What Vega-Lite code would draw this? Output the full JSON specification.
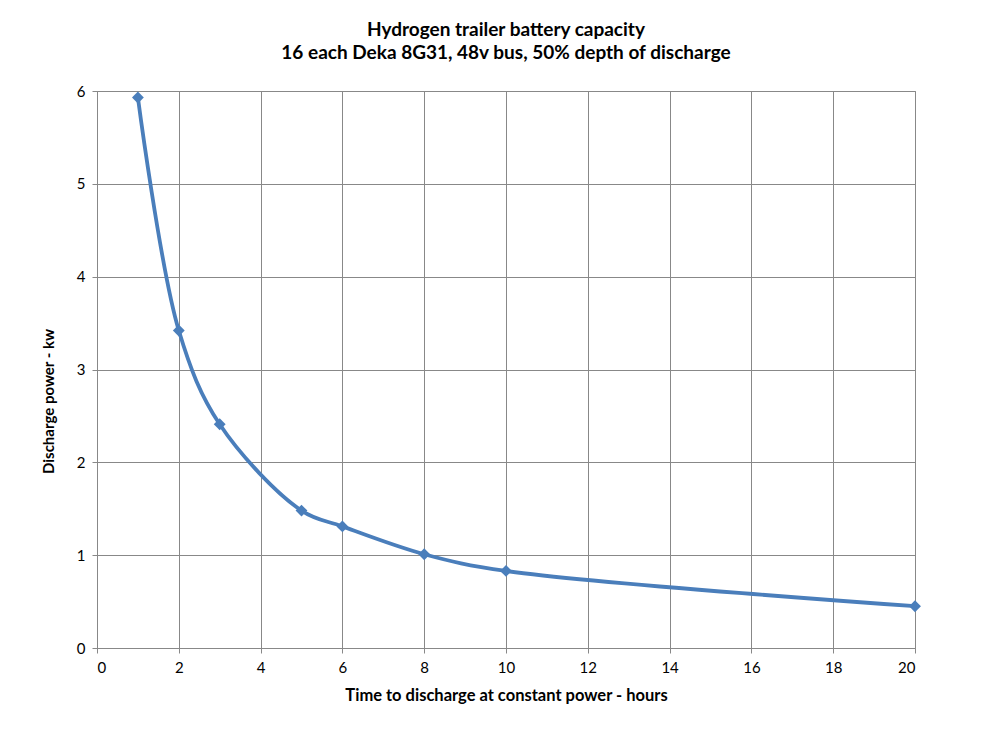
{
  "$schema": "https://vega.github.io/schema/vega-lite/v6.json",
  "autosize": {"type": "none"},
  "width": 818,
  "height": 557,
  "padding": {"left": 97, "top": 91, "right": 85, "bottom": 82},
  "background": "white",
  "title": {
    "text": ["Hydrogen trailer battery capacity", "16 each Deka 8G31, 48v bus, 50% depth of discharge"],
    "font": "Lato",
    "fontSize": 19,
    "fontWeight": "bold",
    "color": "#000000",
    "lineHeight": 23,
    "anchor": "middle",
    "offset": 21
  },
  "config": {
    "view": {"stroke": "#888888", "strokeWidth": 1},
    "axis": {
      "labelFont": "Lato",
      "labelFontSize": 15,
      "labelColor": "#000000",
      "titleFont": "Lato",
      "titleFontSize": 15,
      "titleFontWeight": "bold",
      "titleColor": "#000000",
      "gridColor": "#888888",
      "gridWidth": 1,
      "gridOpacity": 1,
      "domainColor": "#888888",
      "tickColor": "#888888",
      "tickSize": 5
    }
  },
  "data": {
    "values": [
      {"hours": 1, "kw": 5.93},
      {"hours": 2, "kw": 3.42},
      {"hours": 3, "kw": 2.41},
      {"hours": 5, "kw": 1.48},
      {"hours": 6, "kw": 1.31},
      {"hours": 8, "kw": 1.01},
      {"hours": 10, "kw": 0.83},
      {"hours": 20, "kw": 0.45}
    ]
  },
  "encoding": {
    "x": {
      "field": "hours",
      "type": "quantitative",
      "scale": {"domain": [0, 20], "nice": false},
      "axis": {"values": [0, 2, 4, 6, 8, 10, 12, 14, 16, 18, 20], "title": "Time to discharge at constant power - hours", "titleFontSize": 16.5, "labelPadding": 7, "titlePadding": 12}
    },
    "y": {
      "field": "kw",
      "type": "quantitative",
      "scale": {"domain": [0, 6], "nice": false},
      "axis": {"values": [0, 1, 2, 3, 4, 5, 6], "title": "Discharge power - kw", "titleY": 310, "labelPadding": 7, "titlePadding": 20}
    }
  },
  "layer": [
    {"mark": {"type": "line", "interpolate": "catmull-rom", "color": "#4a7ebb", "strokeWidth": 3.8}},
    {"mark": {"type": "point", "shape": "diamond", "filled": true, "color": "#4a7ebb", "size": 140, "opacity": 1}}
  ]
}
